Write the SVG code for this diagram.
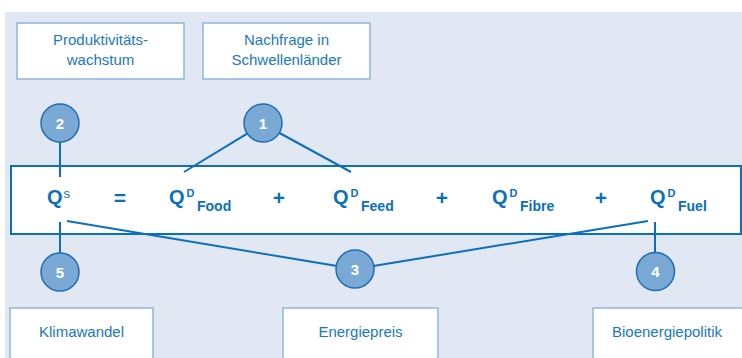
<svg xmlns="http://www.w3.org/2000/svg" width="742" height="358" viewBox="0 0 742 358">
<style>
.lbl{font-family:"Liberation Sans",Arial,sans-serif;font-size:15px;fill:#1a78c2;text-anchor:middle}
.box{fill:#fff;stroke:#8db6de;stroke-width:1.5}
.eq{font-family:"Liberation Sans",Arial,sans-serif;font-weight:bold;fill:#0a6fbd}
.q{font-size:20px}
.sup{font-size:11px}
.sub{font-size:14px}
.op{font-size:21px;text-anchor:middle}
.circ{fill:#7aa9d6;stroke:#1f6db3;stroke-width:1.5}
.num{font-family:"Liberation Sans",Arial,sans-serif;font-weight:bold;font-size:15px;fill:#fff;text-anchor:middle}
.con{stroke:#0a6fbd;stroke-width:2;fill:none}
</style>
<rect x="5" y="12" width="737" height="346" fill="#e1e8f3"/>
<g id="main">
<rect x="11" y="166" width="730" height="68" fill="#fff" stroke="#0a6fbd" stroke-width="2"/>
<text class="eq" x="47" y="204"><tspan class="q">Q</tspan><tspan dx="1" dy="-6" font-size="13" font-weight="normal">s</tspan></text>
<text class="eq op" x="120" y="205">=</text>
<text class="eq" x="169" y="204"><tspan class="q">Q</tspan><tspan class="sup" dx="2" dy="-7">D</tspan><tspan class="sub" dx="2.5" dy="14">Food</tspan></text>
<text class="eq op" x="279" y="205">+</text>
<text class="eq" x="333" y="204"><tspan class="q">Q</tspan><tspan class="sup" dx="2" dy="-7">D</tspan><tspan class="sub" dx="2.5" dy="14">Feed</tspan></text>
<text class="eq op" x="442" y="205">+</text>
<text class="eq" x="492" y="204"><tspan class="q">Q</tspan><tspan class="sup" dx="2" dy="-7">D</tspan><tspan class="sub" dx="2.5" dy="14">Fibre</tspan></text>
<text class="eq op" x="601" y="205">+</text>
<text class="eq" x="650" y="204"><tspan class="q">Q</tspan><tspan class="sup" dx="2" dy="-7">D</tspan><tspan class="sub" dx="2.5" dy="14">Fuel</tspan></text>
</g>
<g id="connectors">
<line class="con" x1="60" y1="142" x2="60" y2="177"/>
<line class="con" x1="60" y1="222" x2="60" y2="253"/>
<line class="con" x1="263" y1="124" x2="184" y2="172"/>
<line class="con" x1="263" y1="124" x2="351" y2="172"/>
<line class="con" x1="67" y1="221" x2="355" y2="269"/>
<line class="con" x1="355" y1="269" x2="648" y2="221"/>
<line class="con" x1="655" y1="222" x2="655" y2="253"/>
</g>
<g id="box-produktivitaet">
<rect class="box" x="17" y="23" width="167" height="56"/>
<text class="lbl" x="100.5" y="45">Produktivitäts-</text>
<text class="lbl" x="100.5" y="65">wachstum</text>
</g>
<g id="box-nachfrage">
<rect class="box" x="203" y="23" width="167" height="56"/>
<text class="lbl" x="286.5" y="45">Nachfrage in</text>
<text class="lbl" x="286.5" y="65">Schwellenländer</text>
</g>
<g id="box-klima">
<rect class="box" x="10" y="308" width="143" height="56"/>
<text class="lbl" x="81.5" y="337">Klimawandel</text>
</g>
<g id="box-energie">
<rect class="box" x="283" y="308" width="155" height="56"/>
<text class="lbl" x="360.5" y="337">Energiepreis</text>
</g>
<g id="box-bio">
<rect class="box" x="593" y="308" width="155" height="56"/>
<text class="lbl" x="667" y="337">Bioenergiepolitik</text>
</g>
<g id="c2"><circle class="circ" cx="60" cy="123" r="19"/><text class="num" x="60" y="128.5">2</text></g>
<g id="c1"><circle class="circ" cx="263" cy="123" r="19"/><text class="num" x="263" y="128.5">1</text></g>
<g id="c5"><circle class="circ" cx="60" cy="272" r="19"/><text class="num" x="60" y="277.5">5</text></g>
<g id="c3"><circle class="circ" cx="355" cy="269" r="19"/><text class="num" x="355" y="274.5">3</text></g>
<g id="c4"><circle class="circ" cx="655.5" cy="271.5" r="19"/><text class="num" x="655.5" y="277">4</text></g>
</svg>
